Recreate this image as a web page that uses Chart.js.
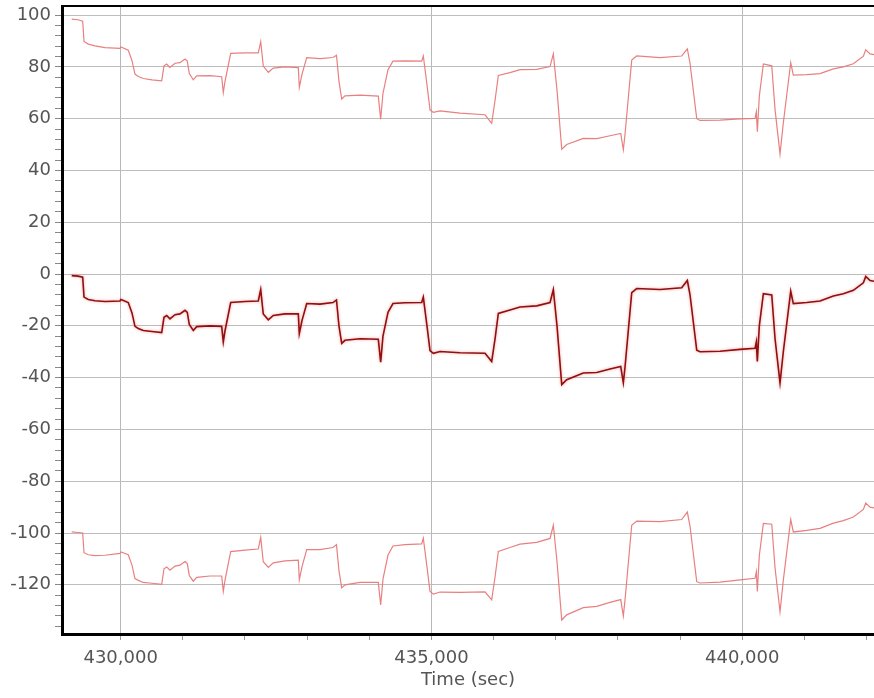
<!DOCTYPE html>
<html>
<head>
<meta charset="utf-8">
<script src="https://cdn.jsdelivr.net/npm/chart.js@4.4.1/dist/chart.umd.min.js"></script>
<style>
  html, body { margin: 0; padding: 0; background: #fff; }
  #wrap { width: 874px; height: 698px; }
</style>
</head>
<body>
<div id="wrap"><canvas id="trendChart" width="874" height="698"></canvas></div>
<script>
// Time stamps (sec)
const times = [
    429212, 429313, 429389, 429410, 429479, 429586, 429747, 429989, 430005, 430122,
    430182, 430230, 430283, 430364, 430504, 430660, 430697, 430740, 430793, 430874,
    430954, 431035, 431072, 431104, 431168, 431223, 431437, 431625, 431651, 431678,
    431770, 432000, 432214, 432253, 432294, 432375, 432455, 432644, 432858, 432874,
    432917, 432993, 433207, 433416, 433472, 433512, 433556, 433609, 433850, 434145,
    434183, 434220, 434301, 434381, 434574, 434843, 434869, 434928, 434977, 435030,
    435138, 435459, 435862, 435969, 436023, 436076, 436264, 436425, 436693, 436908,
    436961, 437020, 437096, 437176, 437443, 437659, 437873, 438045, 438087, 438114,
    438222, 438302, 438677, 439026, 439117, 439160, 439268, 439321, 439643, 439965,
    440206, 440227, 440243, 440275, 440340, 440475, 440528, 440608, 440661, 440780,
    440822, 441038, 441252, 441466, 441627, 441788, 441949, 441987, 442057, 442121
];

// middle trace (dark red)
const midValues = [
    -0.6, -0.8, -1.2, -8.9, -9.8, -10.3, -10.6, -10.4, -9.8, -11,
    -15, -20.2, -21, -21.8, -22.2, -22.6, -16.7, -16, -17.3, -15.7,
    -15.4, -14, -14.8, -19.5, -21.8, -20.3, -20, -20.2, -26.2, -22,
    -11, -10.6, -10.4, -6, -15.4, -17.7, -16, -15.4, -15.4, -23,
    -18, -11.4, -11.6, -11, -10, -20, -26.8, -25.6, -25, -25.2,
    -34, -24, -14.8, -11.4, -11.1, -11, -8.9, -20, -29.6, -30.6,
    -29.9, -30.4, -30.6, -33.8, -25, -15.2, -13.9, -12.7, -12.3, -11,
    -6, -20, -42.7, -40.8, -38.2, -38, -36.7, -35.7, -42, -36,
    -7.2, -5.6, -6, -5.3, -2.5, -8, -29.4, -30, -29.8, -29.1,
    -28.7, -26.2, -33.8, -20, -7.6, -8.1, -25, -42, -30, -6.6,
    -11.4, -11, -10.4, -8.5, -7.6, -6.3, -3.4, -0.9, -2.5, -2.8
];

// upper trace (light red)
const upperValues = [
    98.4, 98.2, 97.6, 89.8, 88.8, 88.1, 87.4, 87.1, 87.7, 86.4,
    82.4, 77.2, 76.3, 75.5, 75.0, 74.6, 80.4, 81.1, 79.8, 81.4,
    81.6, 83.0, 82.2, 77.4, 75.0, 76.5, 76.6, 76.2, 70.1, 74.3,
    85.2, 85.4, 85.4, 89.7, 80.3, 77.9, 79.5, 80.0, 79.7, 72.1,
    77.1, 83.6, 83.2, 83.6, 84.5, 74.5, 67.6, 68.8, 69.1, 68.7,
    59.8, 69.8, 78.9, 82.2, 82.3, 82.2, 84.2, 73.1, 63.4, 62.4,
    63.0, 62.1, 61.5, 58.2, 67.0, 76.7, 77.8, 78.9, 79.0, 80.1,
    85.0, 71.0, 48.2, 50.0, 52.4, 52.3, 53.4, 54.3, 48.0, 53.9,
    82.6, 84.2, 83.6, 84.2, 86.9, 81.4, 60.0, 59.3, 59.4, 59.9,
    60.1, 62.6, 55.0, 68.7, 81.1, 80.4, 63.5, 46.4, 58.3, 81.6,
    76.8, 77.0, 77.4, 79.2, 80.0, 81.2, 84.1, 86.6, 85.0, 84.7
];

// lower trace (light red)
const lowerValues = [
    -99.6, -99.8, -100.0, -107.6, -108.4, -108.7, -108.6, -107.9, -107.3, -108.4,
    -112.4, -117.6, -118.3, -119.1, -119.4, -119.8, -113.8, -113.1, -114.4, -112.8,
    -112.4, -111.0, -111.8, -116.4, -118.6, -117.1, -116.6, -116.6, -122.5, -118.3,
    -107.2, -106.6, -106.2, -101.7, -111.1, -113.3, -111.5, -110.8, -110.5, -118.1,
    -113.1, -106.4, -106.4, -105.6, -104.5, -114.5, -121.2, -120.0, -119.1, -119.1,
    -127.8, -117.8, -108.5, -105.0, -104.5, -104.2, -102.0, -113.1, -122.6, -123.6,
    -122.8, -122.9, -122.7, -125.8, -117.0, -107.1, -105.6, -104.3, -103.6, -102.1,
    -97.0, -111.0, -133.6, -131.6, -128.8, -128.3, -126.8, -125.7, -132.0, -125.9,
    -97.0, -95.4, -95.6, -94.8, -91.9, -97.4, -118.8, -119.3, -119.0, -118.1,
    -117.5, -115.0, -122.6, -108.7, -96.3, -96.6, -113.5, -130.4, -118.3, -94.8,
    -99.6, -99.0, -98.2, -96.2, -95.2, -93.8, -90.9, -88.4, -90.0, -90.3
];

// axis ticks (labels only on every 5000 s / every 20 units)
const xTicks = [430000, 431000, 432000, 433000, 434000, 435000, 436000,
                437000, 438000, 439000, 440000, 441000, 442000];
const xMin = 429056;
const xMax = 442120;
const yMin = -139;
const yMax = 103.5;

const toPoints = vals => vals.map((v, i) => ({ x: times[i], y: v }));

// frame line along the top of the plot
const topFrame = {
    id: 'topFrame',
    afterDraw(chart) {
        const { ctx, chartArea } = chart;
        ctx.save();
        ctx.strokeStyle = '#000';
        ctx.lineWidth = 2;
        ctx.beginPath();
        ctx.moveTo(chartArea.left, chartArea.top);
        ctx.lineTo(chartArea.right, chartArea.top);
        ctx.stroke();
        ctx.restore();
    }
};

// soft pink halo round the middle trace
const glow = {
    id: 'glow',
    beforeDatasetDraw(chart, args) {
        if (args.index !== 1) return;
        chart.ctx.save();
        chart.ctx.shadowColor = 'rgba(255, 90, 90, 0.6)';
        chart.ctx.shadowBlur = 3;
    },
    afterDatasetDraw(chart, args) {
        if (args.index !== 1) return;
        chart.ctx.restore();
    }
};

const tickFont = { family: 'DejaVu Sans', size: 18 };

const trendCtx = document.getElementById('trendChart').getContext('2d');
const trendChart = new Chart(trendCtx, {
    type: 'line',
    data: {
        datasets: [{
            label: 'Upper',
            data: toPoints(upperValues),
            borderColor: 'rgba(232, 120, 120, 0.95)',
            borderWidth: 1.2,
            pointRadius: 0,
            tension: 0
        }, {
            label: 'Value',
            data: toPoints(midValues),
            borderColor: '#8e1010',
            borderWidth: 1.6,
            pointRadius: 0,
            tension: 0
        }, {
            label: 'Lower',
            data: toPoints(lowerValues),
            borderColor: 'rgba(232, 120, 120, 0.95)',
            borderWidth: 1.2,
            pointRadius: 0,
            tension: 0
        }]
    },
    options: {
        responsive: false,
        animation: false,
        layout: {
            padding: { top: 6, right: 0, left: 0, bottom: 0 }
        },
        scales: {
            x: {
                type: 'linear',
                min: xMin,
                max: xMax,
                border: { color: '#000', width: 3 },
                grid: {
                    color: ctx => (ctx.tick && ctx.tick.value % 5000 === 0) ? '#b8b8b8' : 'rgba(0,0,0,0)',
                    tickColor: '#999',
                    tickLength: 6
                },
                afterBuildTicks(scale) {
                    scale.ticks = xTicks.map(v => ({ value: v }));
                },
                ticks: {
                    autoSkip: false,
                    maxRotation: 0,
                    padding: 8,
                    color: '#555',
                    font: tickFont,
                    callback: value => value % 5000 === 0 ? value.toLocaleString('en-US') : ''
                },
                title: {
                    display: true,
                    text: 'Time (sec)',
                    color: '#555',
                    font: tickFont,
                    padding: { top: 0, bottom: 7 }
                },
                afterFit(scale) {
                    scale.height = 64;
                    scale.paddingLeft = 0;
                    scale.paddingRight = 0;
                }
            },
            y: {
                min: yMin,
                max: yMax,
                border: { color: '#000', width: 3 },
                grid: {
                    color: ctx => (ctx.tick && ctx.tick.value % 20 === 0) ? '#bdbdbd' : 'rgba(0,0,0,0)',
                    tickColor: '#888',
                    tickLength: 7
                },
                ticks: {
                    stepSize: 4,
                    includeBounds: false,
                    autoSkip: false,
                    padding: 4,
                    color: '#555',
                    font: tickFont,
                    callback: value => value % 20 === 0 ? String(value) : ''
                },
                afterFit(scale) {
                    scale.width = 62;
                    scale.paddingTop = 0;
                    scale.paddingBottom = 0;
                }
            }
        },
        plugins: {
            legend: { display: false },
            tooltip: { enabled: false }
        }
    },
    plugins: [glow, topFrame]
});
</script>
</body>
</html>
